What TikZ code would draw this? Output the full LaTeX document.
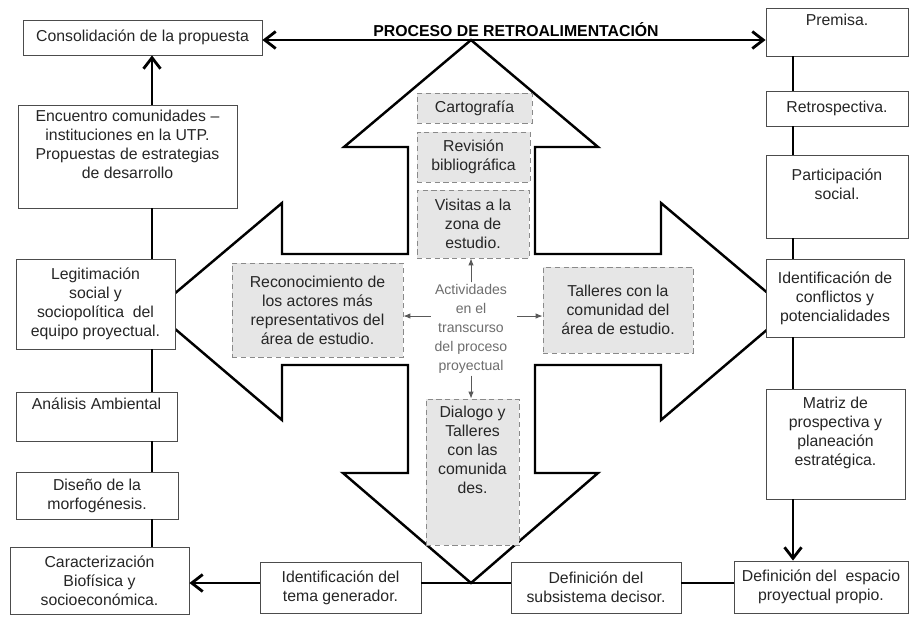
\documentclass[tikz,border=0pt]{standalone}
\usepackage{fontspec}
\setmainfont{Liberation Sans}
\usetikzlibrary{arrows.meta,positioning,calc}
\definecolor{CajaGris}{HTML}{E6E6E6}
\definecolor{BordeGris}{HTML}{8A8A8A}
\definecolor{TextoGris}{HTML}{6E6E6E}

\begin{document}
\begin{tikzpicture}[
  x=0.02cm, y=-0.02cm,
  box/.style={draw=black!70,line width=0.5pt,fill=white,align=center,inner sep=2pt,text=black!85,font=\fontsize{9}{10.8}\selectfont},
  gbox/.style={box,draw=BordeGris,densely dashed,fill=CajaGris},
  cruz/.style={line width=1.4pt,draw=black,fill=white,line join=miter},
  link/.style={line width=1.6pt,draw=black},
  flecha/.style={-{Straight Barb[length=2.2mm,width=3.4mm]}},
  dflecha/.style={{Straight Barb[length=2.2mm,width=3.4mm]}-{Straight Barb[length=2.2mm,width=3.4mm]}},
  mini/.style={line width=0.5pt,draw=black!65,-{Latex[length=1.4mm,width=1.1mm]}},
  titulo/.style={font=\bfseries\fontsize{9}{10.8}\selectfont,inner sep=0pt}
]
\useasboundingbox (0,0) rectangle (909,616);
\coordinate (toptip) at (471,40);
\coordinate (bot) at (471,583);
\coordinate (lspine) at (152,0);
\coordinate (rspine) at (793,0);

\draw[cruz] (toptip) -- (598,147) -- (535,147) -- (535,254) -- (661,254) -- (661,203) -- (789,311)
  -- (661,420) -- (661,365) -- (535,365) -- (535,473) -- (598,473) -- (bot) -- (343,473)
  -- (408,473) -- (408,365) -- (282,365) -- (282,420) -- (154,311) -- (282,203) -- (282,254)
  -- (408,254) -- (408,147) -- (344,147) -- cycle;

\node[titulo,anchor=base] (proceso) at (516,36) {PROCESO DE RETROALIMENTACIÓN};

\node[box,minimum width=4.78cm,minimum height=0.70cm] (cons) at (142.5,37.5) {Consolidación de la propuesta};
\node[box,minimum width=4.38cm,minimum height=2.06cm] (enc) at (127.5,156.5) {Encuentro comunidades –\\ instituciones en la UTP.\\ Propuestas de estrategias\\ de desarrollo\\ \strut};
\node[box,minimum width=3.18cm,minimum height=1.80cm] (legit) at (95.5,304) {Legitimación\\ social y\\ sociopolítica\ \ del\\ equipo proyectual.};
\node[box,minimum width=3.22cm,minimum height=0.98cm] (anal) at (96.5,416.5) {Análisis Ambiental\\ \strut};
\node[box,minimum width=3.24cm,minimum height=0.94cm] (dis) at (97,495.5) {Diseño de la\\ morfogénesis.};
\node[box,minimum width=3.58cm,minimum height=1.34cm] (car) at (99.5,580.5) {Caracterización\\ Biofísica y\\ socioeconómica.};

\node[box,minimum width=2.84cm,minimum height=0.96cm] (prem) at (837,32) {Premisa.\\ \strut};
\node[box,minimum width=2.84cm,minimum height=0.70cm] (retro) at (837,108.5) {Retrospectiva.};
\node[box,minimum width=2.84cm,minimum height=1.66cm] (partic) at (837,196.5) {Participación\\ social.\\ \strut};
\node[box,minimum width=2.76cm,minimum height=1.56cm] (confl) at (835,298) {Identificación de\\ conflictos y\\ potencialidades};
\node[box,minimum width=2.78cm,minimum height=2.20cm] (matriz) at (835.5,444) {Matriz de\\ prospectiva y\\ planeación\\ estratégica.\\ \strut};
\node[box,minimum width=3.48cm,minimum height=1.04cm] (defesp) at (821,587) {Definición del\ \ espacio\\ proyectual propio.};

\node[box,minimum width=3.22cm,minimum height=1.02cm] (tema) at (340.5,587.5) {Identificación del\\ tema generador.};
\node[box,minimum width=3.40cm,minimum height=1.02cm] (subs) at (596,587.5) {Definición del\\ subsistema decisor.};

\node[gbox,minimum width=2.30cm,minimum height=0.60cm] (carto) at (474.5,108) {Cartografía};
\node[gbox,minimum width=2.26cm,minimum height=1.00cm] (revis) at (473.5,157) {Revisión\\ bibliográfica};
\node[gbox,minimum width=2.24cm,minimum height=1.36cm] (visit) at (473,224) {Visitas a la\\ zona de\\ estudio.};
\node[gbox,minimum width=3.42cm,minimum height=1.88cm] (recon) at (317.5,310) {Reconocimiento de\\ los actores más\\ representativos del\\ área de estudio.};
\node[gbox,minimum width=3.00cm,minimum height=1.72cm] (talle) at (618,310) {Talleres con la\\ comunidad del\\ área de estudio.};
\node[gbox,minimum width=1.86cm,minimum height=2.92cm] (dialo) at (472.5,472) {Dialogo y\\ Talleres\\ con las\\ comunida\\ des.\\ \strut\\ \strut};

\node[align=center,inner sep=1pt,text=TextoGris,font=\fontsize{8}{10.8}\selectfont] (act) at (471,329) {Actividades\\ en el\\ transcurso\\ del proceso\\ proyectual};

\coordinate (aw) at ($(act.west)+(-2,-13)$);
\coordinate (ae) at ($(act.east)+(8,-13)$);
\draw[mini] (act.north) -- (act.north |- visit.south);
\draw[mini] (aw) -- (aw -| recon.east);
\draw[mini] (ae) -- (ae -| talle.west);
\draw[mini] (act.south) -- (act.south |- dialo.north);

\draw[link,dflecha] (cons.east |- toptip) -- (prem.west |- toptip);
\draw[link,flecha] (enc.north -| lspine) -- (cons.south -| lspine);
\foreach \a/\b in {enc/legit,legit/anal,anal/dis,dis/car}
  \draw[link] (\a.south -| lspine) -- (\b.north -| lspine);
\foreach \a/\b in {prem/retro,retro/partic,partic/confl,confl/matriz}
  \draw[link] (\a.south -| rspine) -- (\b.north -| rspine);
\draw[link,flecha] (matriz.south -| rspine) -- (defesp.north -| rspine);
\draw[link] (defesp.west |- bot) -- (subs.east |- bot);
\draw[link] (subs.west |- bot) -- (tema.east |- bot);
\draw[link,flecha] (tema.west |- bot) -- (car.east |- bot);
\end{tikzpicture}
\end{document}
